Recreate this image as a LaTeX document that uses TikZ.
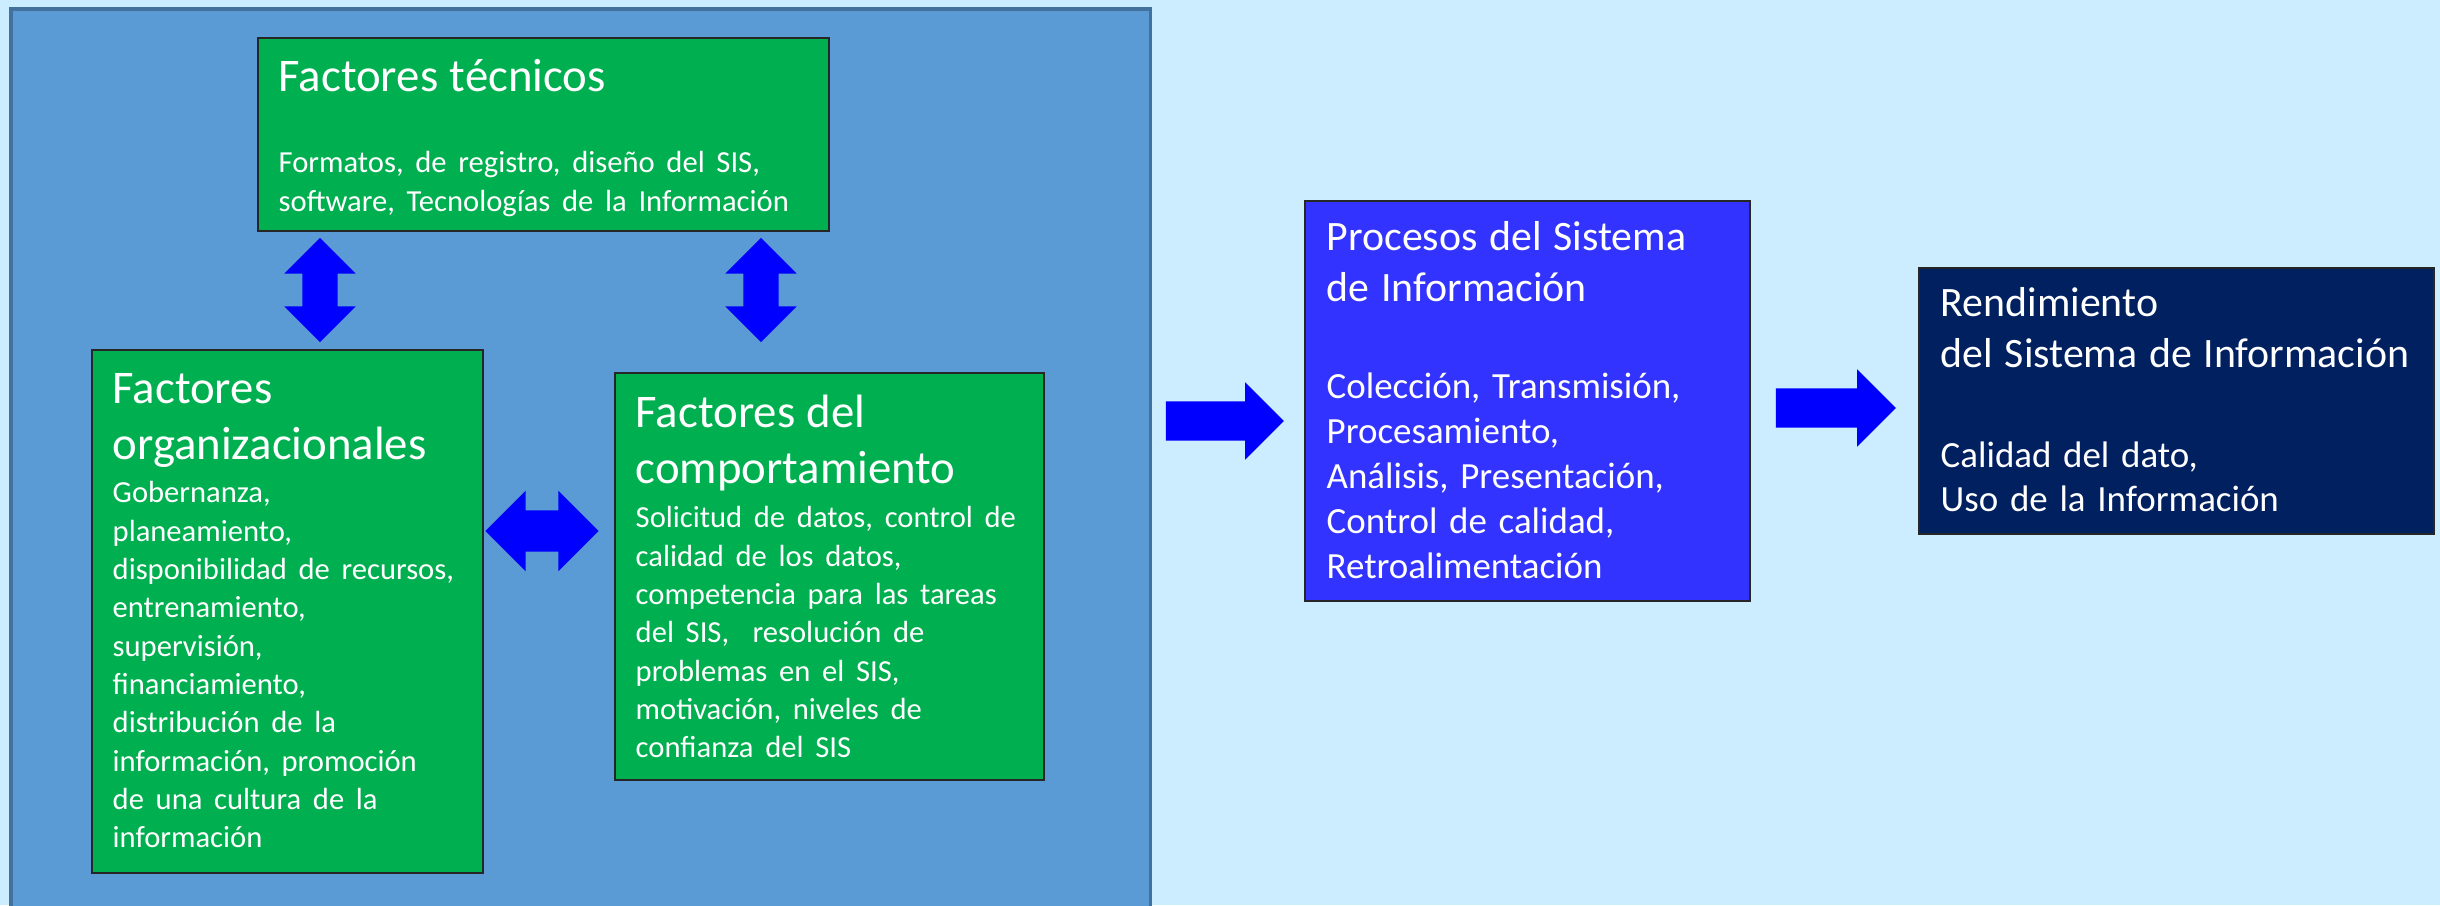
\documentclass[tikz,border=0pt]{standalone}
\usepackage{fontspec}
\setmainfont{Carlito}
\usetikzlibrary{shapes.arrows}

\definecolor{fondo}{HTML}{CCECFF}
\definecolor{panelazul}{HTML}{5B9BD5}
\definecolor{bordepanel}{HTML}{41719C}
\definecolor{verde}{HTML}{00B050}
\definecolor{azulproc}{HTML}{3333FF}
\definecolor{marino}{HTML}{002060}
\definecolor{flechaazul}{HTML}{0000FF}

\newcommand{\titgrande}{\fontsize{13.3}{16.2}\selectfont}
\newcommand{\titmedio}{\fontsize{11.9}{14.5}\selectfont}
\newcommand{\cuerpochico}{\fontsize{8.7}{10.9}\selectfont}

\tikzset{
  caja/.style={draw=black!85, line width=0.6pt, anchor=north west, inner sep=0pt},
  texto/.style={anchor=base west, inner sep=0pt, text=white},
  flecha/.style={single arrow, fill=flechaazul, inner sep=0.19cm, single arrow head extend=0.19cm},
  dflecha/.style={double arrow, fill=flechaazul},
}

\begin{document}
\begin{tikzpicture}[x=0.01cm, y=-0.01cm]
  \useasboundingbox[fill=fondo] (0,0) rectangle (2440,905);
  \node[caja, draw=bordepanel, line width=1pt, fill=panelazul, minimum width=11.39cm, minimum height=9.2cm] (panel) at (9,7) {};

  % factores
  \node[caja, fill=verde, minimum width=5.71cm, minimum height=1.93cm] (tec) at (257,37) {};
  \node[caja, fill=verde, minimum width=3.91cm, minimum height=5.23cm] (org) at (91,349) {};
  \node[caja, fill=verde, minimum width=4.29cm, minimum height=4.07cm] (comp) at (614,372) {};

  \node[texto, text width=5.4cm] (tecT) at (278,91) {{\titgrande Factores técnicos\par}\vspace{12.4pt}{\cuerpochico Formatos, de registro, diseño del SIS,\\software, Tecnologías de la Información\par}};
  \node[texto, text width=3.75cm] (orgT) at (112,403) {{\titgrande Factores\\organizacionales\par}\vspace{1.3pt}{\cuerpochico Gobernanza,\\planeamiento,\\disponibilidad de recursos,\\entrenamiento,\\supervisión,\\financiamiento,\\distribución de la\\información, promoción\\de una cultura de la\\información\par}};
  \node[texto, text width=4.05cm] (compT) at (635,427) {{\titgrande Factores del\\comportamiento\par}\vspace{1.6pt}{\cuerpochico Solicitud de datos, control de\\calidad de los datos,\\competencia para las tareas\\del SIS, \ resolución de\\problemas en el SIS,\\motivación, niveles de\\confianza del SIS\par}};

  \node[dflecha, rotate=90, inner sep=0.17cm, minimum height=1.04cm, double arrow head extend=0.18cm] (tec-org) at (320,290) {};
  \node[dflecha, rotate=90, inner sep=0.17cm, minimum height=1.04cm, double arrow head extend=0.18cm] (tec-comp) at (761,290) {};
  \node[dflecha, inner sep=0.2cm, minimum height=1.13cm, double arrow head extend=0.195cm] (org-comp) at (542,531) {};

  % procesos y rendimiento
  \node[caja, fill=azulproc, minimum width=4.45cm, minimum height=4.0cm] (proc) at (1304,200) {};
  \node[caja, fill=marino, minimum width=5.15cm, minimum height=2.66cm] (rend) at (1918,267) {};

  \node[texto, text width=4.2cm] (procT) at (1326,250) {{\titmedio Procesos del Sistema\\de Información\par}\vspace{15pt}{\fontsize{10.5}{12.8}\selectfont Colección, Transmisión,\\Procesamiento,\\Análisis, Presentación,\\Control de calidad,\\Retroalimentación\par}};
  \node[texto, text width=4.9cm] (rendT) at (1940,316) {{\titmedio Rendimiento\\del Sistema de Información\par}\vspace{16pt}{\fontsize{10.5}{12.5}\selectfont Calidad del dato,\\Uso de la Información\par}};

  \node[flecha, minimum height=1.18cm] (panel-proc) at (1215,421) {};
  \node[flecha, minimum height=1.20cm] (proc-rend) at (1826,408) {};
\end{tikzpicture}
\end{document}
